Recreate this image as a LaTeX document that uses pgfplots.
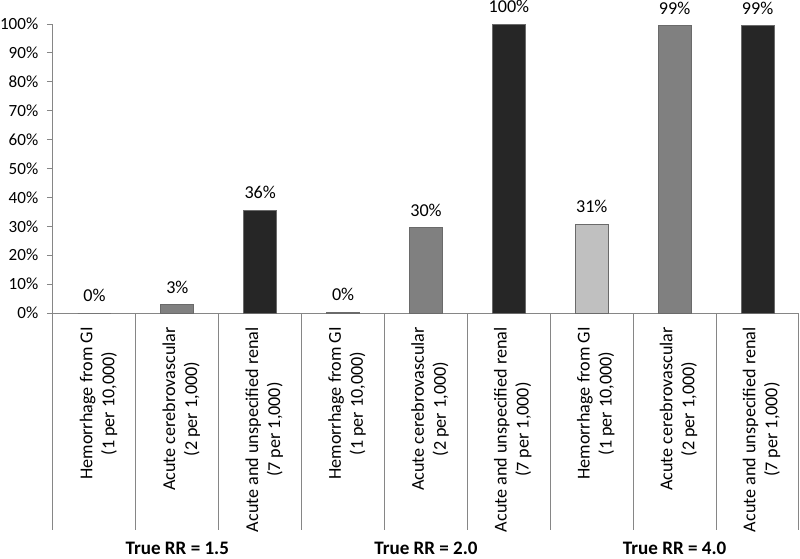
\documentclass[border=0pt]{standalone}
\usepackage{pgfplots}
\pgfplotsset{compat=1.18}
\usepackage{fontspec}
\setmainfont{Carlito}
\definecolor{axgray}{HTML}{868686}
\definecolor{cLight}{HTML}{C0C0C0}
\definecolor{cMid}{HTML}{808080}
\definecolor{cDark}{HTML}{262626}
\definecolor{cEdge}{HTML}{6A6A6A}
\newcommand{\lblfont}{\fontsize{13.6}{16.5}\selectfont}
\begin{document}
\begin{tikzpicture}[font=\lblfont]
\useasboundingbox (-39.75pt,-183.75pt) rectangle (560.25pt,234.75pt);
\begin{axis}[
 scale only axis, width=559.5pt, height=216.75pt,
 xmin=-0.5, xmax=8.5, ymin=0, ymax=100,
 axis lines*=left, axis line style={axgray, line width=0.75pt},
 ytick={0,10,...,100},
 yticklabel={\pgfmathprintnumber[assume math mode=true]{\tick}\%},
 ytick style={axgray, line width=0.75pt}, tick align=outside, major tick length=4.5pt,
 yticklabel style={font=\fontsize{12.8}{15}\selectfont, anchor=east, inner sep=0pt, xshift=-6.4pt},
 xtick={0,...,8},
 xticklabels={
  {Hemorrhage from GI\\(1 per 10,000)},
  {Acute cerebrovascular\\(2 per 1,000)},
  {Acute and unspecified renal\\(7 per 1,000)},
  {Hemorrhage from GI\\(1 per 10,000)},
  {Acute cerebrovascular\\(2 per 1,000)},
  {Acute and unspecified renal\\(7 per 1,000)},
  {Hemorrhage from GI\\(1 per 10,000)},
  {Acute cerebrovascular\\(2 per 1,000)},
  {Acute and unspecified renal\\(7 per 1,000)}},
 x tick style={draw=none},
 xticklabel style={font=\lblfont, rotate=90, anchor=east, align=center, inner sep=0pt, xshift=-6pt, yshift=-3pt},
 ybar, bar width=24.75pt,
 nodes near coords, point meta=explicit symbolic,
 every node near coord/.append style={font=\lblfont, inner sep=0pt, yshift=8pt, text=black},
 clip=false,
]
\addplot[bar shift=0pt, fill=cLight, draw=cEdge, line width=0.75pt] coordinates {
 (0,0) [0\%]
 (3,0.3) [0\%]
 (6,30.7) [31\%]
};
\addplot[bar shift=0pt, fill=cMid, draw=cEdge, line width=0.75pt] coordinates {
 (1,3.0) [3\%]
 (4,29.6) [30\%]
 (7,99.4) [99\%]
};
\addplot[bar shift=0pt, fill=cDark, draw=cEdge, line width=0.75pt] coordinates {
 (2,35.6) [36\%]
 (5,100) [100\%]
 (8,99.4) [99\%]
};
\pgfplotsinvokeforeach{-0.5,0.5,1.5,2.5,3.5,4.5,5.5,6.5,7.5,8.5}{
 \draw[axgray, line width=0.75pt] (axis cs:#1,0) -- ++(0pt,-162.75pt);
}
\node[font=\fontsize{14.3}{16.5}\selectfont\bfseries] at (axis cs:1,0) [yshift=-176.25pt] {True RR = 1.5};
\node[font=\fontsize{14.3}{16.5}\selectfont\bfseries] at (axis cs:4,0) [yshift=-176.25pt] {True RR = 2.0};
\node[font=\fontsize{14.3}{16.5}\selectfont\bfseries] at (axis cs:7,0) [yshift=-176.25pt] {True RR = 4.0};
\end{axis}
\end{tikzpicture}
\end{document}
